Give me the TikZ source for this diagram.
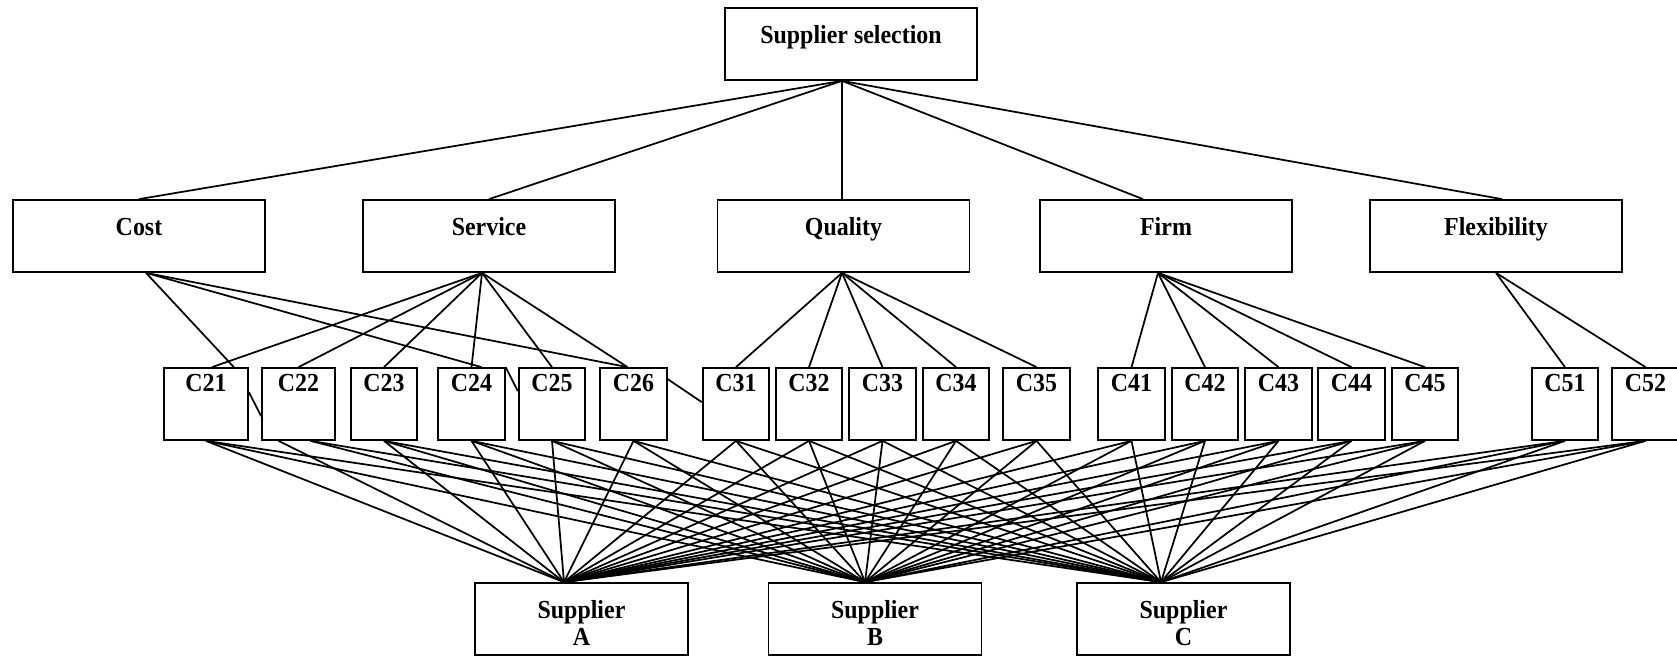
\documentclass[tikz,border=0pt]{standalone}
\usepackage{fontspec}
\setmainfont{Liberation Serif}[FakeStretch=0.92]
\usetikzlibrary{calc}
\begin{document}
\begin{tikzpicture}[x=0.75pt,y=-0.75pt,
  every node/.style={font=\fontsize{19.5}{20.25}\selectfont\bfseries},
  link/.style={line width=1.3pt},
  bigbox/.style={draw, line width=1.3pt, inner sep=0pt, minimum width=189pt, text height=26.25pt, text depth=27.75pt},
  cbox/.style={draw, line width=1.3pt, inner sep=0pt, minimum width=50pt, text height=17.6pt, text depth=36.4pt},
  supbox/.style={bigbox, minimum width=159.75pt}]
\useasboundingbox (0,0) rectangle (1677,657);

% top
\node[bigbox] (top) at (851,44) {Supplier selection};
% criteria
\node[bigbox] (cost) at (139,236) {Cost};
\node[bigbox] (serv) at (489,236) {Service};
\node[bigbox] (qual) at (843.5,236) {Quality};
\node[bigbox] (firm) at (1166,236) {Firm};
\node[bigbox] (flex) at (1496,236) {Flexibility};
% sub-criteria
\node[cbox, minimum width=63pt] (C21) at (206,404) {C21};
\node[cbox, minimum width=54.75pt] (C22) at (298.5,404) {C22};
\node[cbox] (C23) at (384,404) {C23};
\node[cbox] (C24) at (471.5,404) {C24};
\node[cbox] (C25) at (552,404) {C25};
\node[cbox] (C26) at (633.5,404) {C26};
\node[cbox] (C31) at (736,404) {C31};
\node[cbox] (C32) at (809,404) {C32};
\node[cbox] (C33) at (882.5,404) {C33};
\node[cbox] (C34) at (956,404) {C34};
\node[cbox] (C35) at (1036.5,404) {C35};
\node[cbox] (C41) at (1131.5,404) {C41};
\node[cbox] (C42) at (1205,404) {C42};
\node[cbox] (C43) at (1278.5,404) {C43};
\node[cbox] (C44) at (1351.5,404) {C44};
\node[cbox] (C45) at (1425,404) {C45};
\node[cbox] (C51) at (1565,404) {C51};
\node[cbox] (C52) at (1645.5,404) {C52};
% suppliers
\node[supbox] (SA) at (581.5,619) {\begin{tabular}[t]{@{}c@{}}Supplier\\A\end{tabular}};
\node[supbox] (SB) at (875,619) {\begin{tabular}[t]{@{}c@{}}Supplier\\B\end{tabular}};
\node[supbox] (SC) at (1183.5,619) {\begin{tabular}[t]{@{}c@{}}Supplier\\C\end{tabular}};

% connection points
\coordinate (tb) at ($(top.south)+(-9,0)$);
\coordinate (costb) at ($(cost.south)+(7,0)$);
\coordinate (servb) at ($(serv.south)+(-7,0)$);
\coordinate (firmb) at ($(firm.south)+(-8,0)$);
\coordinate (pA) at ($(SA.north)+(-17.5,0)$);
\coordinate (pB) at ($(SB.north)+(-10,0)$);
\coordinate (pC) at ($(SC.north)+(-22.5,0)$);

% level 1 -> 2
\draw[link] (tb) -- (cost.north);
\draw[link] (tb) -- (serv.north);
\draw[link] (tb) -- (qual.north -| tb);
\draw[link] (tb) -- ($(firm.north)+(-23,0)$);
\draw[link] (tb) -- ($(flex.north)+(6,0)$);

% cost
\draw[link] (costb) -- ($(C21.north east)+(-15,0)$);
\draw[link] (costb) -- ($(C24.north)+(10,0)$);
\draw[link] (costb) -- ($(C26.north)+(-6,0)$);
% service
\draw[link] (servb) -- ($(C21.north)+(6,0)$);
\foreach \n in {C22,C23,C24,C25} \draw[link] (servb) -- (\n.north);
\draw[link] (servb) -- ($(C26.north)+(-6,0)$);
% quality
\foreach \n in {C31,C32,C33,C34,C35} \draw[link] (qual.south -| tb) -- (\n.north);
% firm
\foreach \n in {C41,C42,C43,C44,C45} \draw[link] (firmb) -- (\n.north);
% flexibility
\foreach \n in {C51,C52} \draw[link] (flex.south) -- (\n.north);

% stray segments between boxes
\draw[link] ($(C21.north east)+(0,25)$) -- ($(C22.north west)+(0,49)$);
\draw[link] (C24.north east) -- ($(C25.north west)+(0,24)$);
\draw[link] ($(C26.north east)+(0,12)$) -- ($(C31.north west)+(0,35)$);

% sub-criteria -> suppliers
\draw[link] ($(C22.south)+(-20,0)$) -- (pA);
\draw[link] ($(C22.south)+(12,0)$) -- (pB);
\draw[link] ($(C22.south)+(12,0)$) -- (pC);
\foreach \n in {C21,C23,C24,C25,C26,C31,C32,C33,C34,C35,C41,C42,C43,C44,C45,C51,C52}
  \foreach \s in {pA,pB,pC}
    \draw[link] (\n.south) -- (\s);
\end{tikzpicture}
\end{document}
